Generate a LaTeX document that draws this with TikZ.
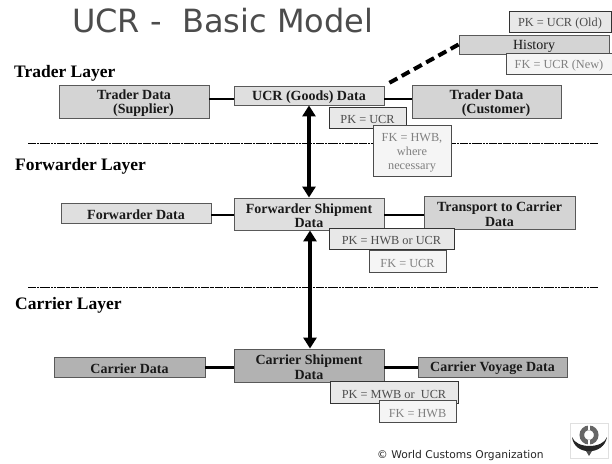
\documentclass[tikz,border=0pt]{standalone}
\usepackage{fontspec}
\setmainfont{Liberation Serif}
\newfontfamily\titlefont{DejaVu Sans}
\usetikzlibrary{arrows.meta,calc}
\definecolor{lightbox}{gray}{0.875}
\definecolor{midbox}{gray}{0.70}
\definecolor{pkfill}{gray}{0.91}
\definecolor{fkfill}{gray}{0.96}
\definecolor{edge}{gray}{0.35}
\tikzset{
  box/.style={draw=edge,line width=0.9pt,inner sep=0pt,align=center,font=\bfseries\fontsize{14}{14.5}\selectfont,text=black!90},
  traderbox/.style={box,fill=lightbox!95!black},
  lightnode/.style={box,fill=lightbox},
  carrierbox/.style={box,fill=midbox},
  pkbox/.style={draw=black!80,line width=0.9pt,fill=pkfill,inner sep=0pt,align=center,font=\fontsize{12.3}{14}\selectfont,text=black!70},
  fkbox/.style={draw=black!70,line width=0.9pt,fill=fkfill,inner sep=0pt,align=center,font=\fontsize{12.3}{14}\selectfont,text=black!50},
  layerlabel/.style={anchor=west,inner sep=0pt,font=\bfseries\fontsize{17.5}{19}\selectfont},
  link/.style={draw=black,line width=1.8pt},
  heavylink/.style={draw=black,line width=3pt},
  bigarrow/.style={draw=black,line width=3.6pt,{Triangle[width=13pt,length=11pt]}-{Triangle[width=13pt,length=11pt]},shorten <=0pt,shorten >=0pt},
  rule/.style={draw=black,line width=1pt,dash pattern=on 8pt off 0.8pt on 2pt off 0.8pt on 2pt off 0.8pt},
  histlink/.style={draw=black,line width=4pt,dash pattern=on 9pt off 5pt}
}
\newcommand{\bx}[7]{\node[#6,minimum width={#4-#2 pt},minimum height={#5-#3 pt}] (#1) at ({(#2+#4)/2},{(#3+#5)/2}) {\rule{0pt}{13pt}#7};}
\begin{document}
\begin{tikzpicture}[x=1pt,y=-1pt]
\useasboundingbox (0,0) rectangle (612,463);
\fill[white] (0,0) rectangle (612,463);
% free ends of rules
\coordinate (r1a) at (28,143);
\coordinate (r1b) at (598,143);
\coordinate (r2a) at (28,287);
\coordinate (r2b) at (598,287);
\draw[rule] (r1a) -- (r1b);
\draw[rule] (r2a) -- (r2b);
% title and labels
\node[anchor=west,inner sep=0pt,text=black!70,font=\titlefont\fontsize{32}{36}\selectfont] (title) at (72,21) {UCR -\ \ Basic Model};
\node[layerlabel] (l1) at (14,73) {Trader Layer};
\node[layerlabel] (l2) at (15,166) {Forwarder Layer};
\node[layerlabel] (l3) at (15,305) {Carrier Layer};
% main boxes
\bx{sup}{59}{85}{209}{118}{traderbox}{Trader Data\\\hspace*{19pt}(Supplier)}
\bx{ucr}{234}{86}{384}{105}{lightnode}{UCR (Goods) Data}
\bx{cus}{412}{85}{561}{118}{traderbox}{Trader Data\\\hspace*{19pt}(Customer)}
\bx{fwd}{61}{203}{211}{223}{lightnode}{Forwarder Data}
\bx{fship}{234}{198}{384}{230}{lightnode}{Forwarder Shipment\\Data}
\bx{trans}{424}{196}{575}{229}{traderbox}{Transport to Carrier\\Data}
\bx{car}{54}{357}{205}{377}{carrierbox}{Carrier Data}
\bx{cship}{234}{349}{384}{382}{carrierbox}{Carrier Shipment\\Data}
\bx{voy}{418}{357}{567}{377}{carrierbox}{Carrier Voyage Data}
% history
\bx{pkold}{509}{11}{611}{32}{pkbox}{PK = UCR (Old)}
\bx{hist}{459}{35}{609}{54}{traderbox}{\mdseries History}
\bx{fknew}{506}{53}{612}{74}{fkbox}{FK = UCR (New)}
% key boxes
\bx{pku}{329}{107}{406}{128}{pkbox}{PK = UCR}
\bx{fkh}{373}{125}{451}{176}{fkbox}{FK = HWB,\\where\\necessary}
\bx{pkh}{329}{228}{454}{249}{pkbox}{PK = HWB or UCR}
\bx{fku}{369}{250}{446}{272}{fkbox}{FK = UCR}
\bx{pkm}{330}{381}{458}{403}{pkbox}{PK = MWB or\ \ UCR}
\bx{fkw}{379}{400}{456}{422}{fkbox}{FK = HWB}
% connectors
\draw[link] (sup.east |- 0,99) -- (ucr.west |- 0,99);
\draw[link] (ucr.east |- 0,99) -- (cus.west |- 0,99);
\draw[link] (fwd.east |- 0,215) -- (fship.west |- 0,215);
\draw[link] (fship.east |- 0,215) -- (trans.west |- 0,215);
\draw[heavylink] (car.east |- 0,367) -- (cship.west |- 0,367);
\draw[heavylink] (cship.east |- 0,367) -- (voy.west |- 0,367);
\draw[bigarrow] (ucr.south) -- (fship.north);
\draw[bigarrow] ([xshift=1pt]fship.south) -- ([xshift=1pt]cship.north);
\draw[histlink,shorten >=4pt] (hist.west) -- (ucr.north east);
% footer
\node[anchor=west,inner sep=0pt,text=black!85,font=\titlefont\fontsize{10.7}{12}\selectfont] (copy) at (377,456) {© World Customs Organization};
% logo
\node[draw=black!12,line width=0.8pt,fill=white,minimum width=38pt,minimum height=35pt,inner sep=0pt] (logo) at (589.5,440.5) {};
\draw[black!60,line width=4.6pt] (589,435) circle[radius=7.2];
\fill[white] (588.3,425) rectangle (589.7,430);
\fill[white] (588.3,440) rectangle (589.7,445);
\fill[black!85] (572,437) .. controls (574,456) and (604,456) .. (607,437) .. controls (603,449) and (576,449) .. cycle;
\fill[black!70] (586,451) -- (592,451) -- (589,456) -- cycle;
\end{tikzpicture}
\end{document}
